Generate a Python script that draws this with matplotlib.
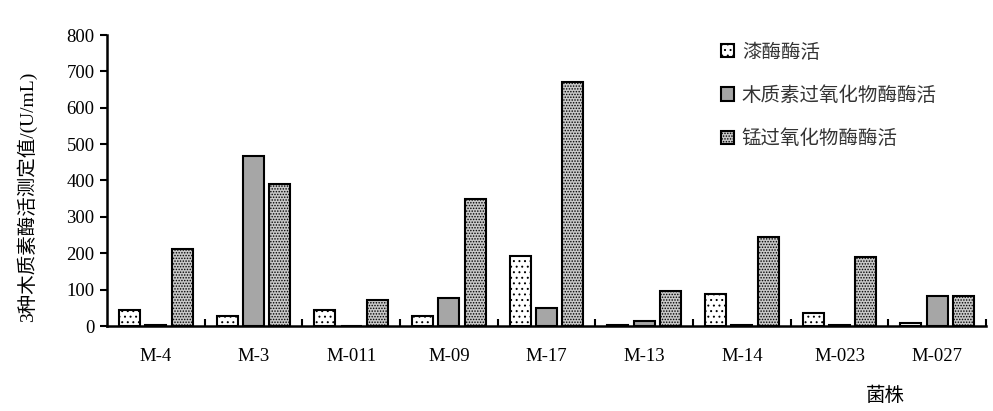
import numpy as np
import matplotlib
matplotlib.use("Agg")
import matplotlib.pyplot as plt

plt.rcParams['font.family'] = ['Liberation Serif', 'Noto Sans CJK SC']
plt.rcParams['hatch.linewidth'] = 0.7

strains = ["M-4", "M-3", "M-011", "M-09", "M-17", "M-13", "M-14", "M-023", "M-027"]
lac = [45, 28, 45, 28, 193, 2, 89, 37, 9]
lip = [2, 468, 0, 78, 49, 15, 2, 2, 83]
mnp = [213, 390, 71, 348, 672, 97, 245, 190, 83]
series_names = ["漆酶酶活", "木质素过氧化物酶酶活", "锰过氧化物酶酶活"]
y_ticks = [0, 100, 200, 300, 400, 500, 600, 700, 800]

W, H = 993, 411
fig = plt.figure(figsize=(W / 100, H / 100), dpi=100)
ax = fig.add_axes([107 / W, (H - 326) / H, (986 - 107) / W, (326 - 35) / H])

x = np.arange(len(strains))
bw = 0.215
off = 0.27
b1 = ax.bar(x - off, lac, bw, color="white", edgecolor="black", linewidth=1.5, hatch="...")
b2 = ax.bar(x, lip, bw, color="#a6a6a6", edgecolor="black", linewidth=1.5)
b3 = ax.bar(x + off, mnp, bw, color="#c8c8c8", edgecolor="black", linewidth=1.5, hatch="......")

ax.set_xlim(-0.5, len(strains) - 0.5)
ax.set_ylim(0, 800)
ax.set_yticks(y_ticks)
ax.tick_params(axis="y", direction="out", length=5, width=1.5, labelsize=13.5, pad=4)
ax.set_xticks(x)
ax.set_xticklabels(strains)
ax.tick_params(axis="x", which="major", length=0, labelsize=13.5, pad=16)
ax.set_xticks(np.arange(len(strains)) + 0.5, minor=True)
ax.tick_params(axis="x", which="minor", direction="in", length=5, width=1.5)

for s in ["top", "right"]:
    ax.spines[s].set_visible(False)
for s in ["left", "bottom"]:
    ax.spines[s].set_linewidth(1.8)

fig.text(27 / W, 1 - 197 / H, "3种木质素酶活测定值/(U/mL)", rotation=90,
         ha="center", va="center", fontsize=14)
fig.text(885 / W, 1 - 396 / H, "菌株", ha="center", va="center", fontsize=14)

leg = ax.legend([b1, b2, b3], series_names, loc="upper left",
                bbox_to_anchor=(703 / W, 1 - 24 / H), bbox_transform=fig.transFigure,
                frameon=False, handlelength=0.7, handleheight=0.7,
                handletextpad=0.4, labelspacing=1.15,
                prop={'family': ['Noto Sans CJK SC'], 'size': 14})
for t in leg.get_texts():
    t.set_color("#333333")

fig.savefig("out.png", dpi=100)
